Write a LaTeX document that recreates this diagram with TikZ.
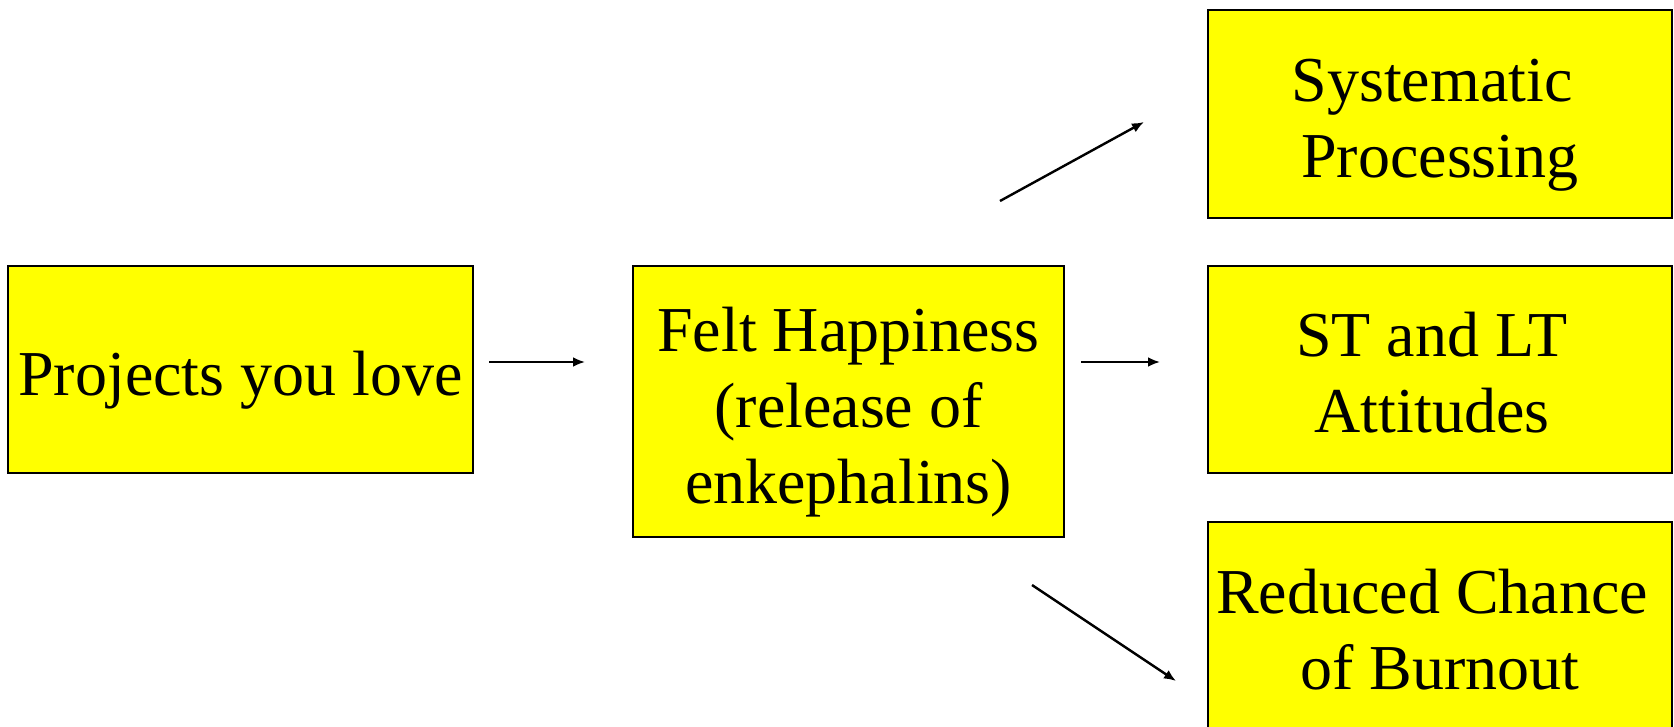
\documentclass[tikz,border=0pt]{standalone}
\usepackage{fontspec}
\setmainfont{Liberation Serif}
\usetikzlibrary{arrows.meta}
\definecolor{boxyellow}{RGB}{255,255,0}
\begin{document}
\begin{tikzpicture}[x=1pt,y=-1pt,
  box/.style={draw=black, line width=2.5pt, fill=boxyellow, inner sep=0pt},
  txt/.style={align=center, inner sep=0pt, font=\fontsize{64}{76}\selectfont},
  arr/.style={draw=black, line width=2.4pt, -{Latex[length=12pt,width=10pt]}}]
\useasboundingbox (0,0) rectangle (1674,727);
\node[box, minimum width=465, minimum height=207] (p) at (240.5,369.5) {};
\node[box, minimum width=431, minimum height=271] (f) at (848.5,401.5) {};
\node[box, minimum width=464, minimum height=208] (s) at (1440,114) {};
\node[box, minimum width=464, minimum height=207] (a) at (1440,369.5) {};
\node[box, minimum width=464, minimum height=207] (r) at (1440,625.5) {};
\node[txt] (pt) at ([yshift=-11pt]p.center) {Projects you love};
\node[txt] (ft) at ([yshift=-11pt]f.center) {Felt Happiness\\(release of\hspace*{0.25em}\\enkephalins)};
\node[txt] (st) at ([yshift=-11pt]s.center) {Systematic\hspace*{0.25em}\\Processing};
\node[txt] (at) at ([yshift=-3pt,xshift=-8pt]a.center) {ST and LT\\Attitudes};
\node[txt] (rt) at ([yshift=-4pt]r.center) {Reduced Chance\hspace*{0.25em}\\of Burnout};
\coordinate (a1s) at (489,362); \coordinate (a1e) at (585,362);
\coordinate (a2s) at (1081,362); \coordinate (a2e) at (1160,362);
\coordinate (a3s) at (1000,201); \coordinate (a3e) at (1144,122);
\coordinate (a4s) at (1032,585); \coordinate (a4e) at (1176,681);
\draw[arr] (a1s) -- (a1e);
\draw[arr] (a2s) -- (a2e);
\draw[arr] (a3s) -- (a3e);
\draw[arr] (a4s) -- (a4e);
\end{tikzpicture}
\end{document}
